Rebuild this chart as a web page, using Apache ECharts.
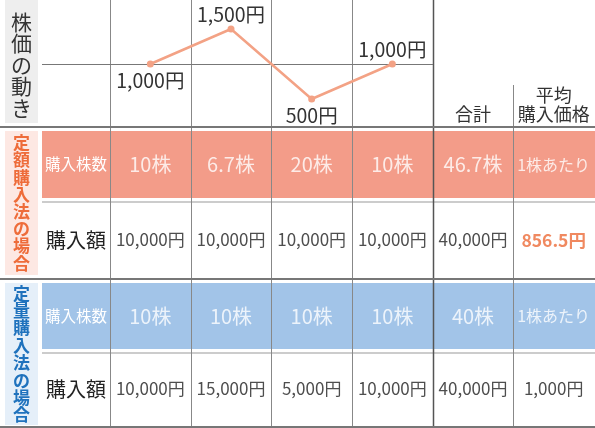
<!DOCTYPE html>
<html><head><meta charset="utf-8">
<script src="https://cdn.jsdelivr.net/npm/echarts@6/dist/echarts.min.js"></script>
<style>html,body{margin:0;padding:0;background:#fff}#c{width:595px;height:428px}</style>
</head><body><div id="c"></div>
<script>
const columns = ['1回目', '2回目', '3回目', '4回目', '合計', '平均\n購入価格'];
const prices = [1000, 1500, 500, 1000];
const priceLabels = ['1,000円', '1,500円', '500円', '1,000円'];
const priceLabelSide = ['bottom', 'top', 'bottom', 'top'];
const rowNames = ['購入株数', '購入額'];
const fixedAmountShares = ['10株', '6.7株', '20株', '10株', '46.7株', '1株あたり'];
const fixedAmountCost = ['10,000円', '10,000円', '10,000円', '10,000円', '40,000円', '856.5円'];
const fixedShareShares = ['10株', '10株', '10株', '10株', '40株', '1株あたり'];
const fixedShareCost = ['10,000円', '15,000円', '5,000円', '10,000円', '40,000円', '1,000円'];
const sectionTitles = ['株価の動き', '定額購入法の場合', '定量購入法の場合'];

const FONT = 'Noto Sans CJK JP';
const W = 595, GL = 110, GR = 1;
const cellW = (W - GL - GR) / columns.length;

const chart = echarts.init(document.getElementById('c'), null, {renderer: 'canvas'});

const rowGrids = [
  {top: 131, height: 67},
  {top: 204, height: 72},
  {top: 283, height: 66},
  {top: 355, height: 68}
];

const grids = [{left: GL, right: GR, top: 1, height: 126}].concat(
  rowGrids.map(g => ({left: GL, right: GR, top: g.top, height: g.height})));

const xAxes = grids.map((g, i) => ({
  gridIndex: i, type: 'category', data: columns, boundaryGap: true,
  show: i === 0,
  axisLine: {show: false}, axisTick: {show: false}, splitLine: {show: false},
  axisLabel: i === 0 ? {
    inside: true, margin: 3, interval: 0, fontFamily: FONT, fontSize: 18, lineHeight: 19,
    color: '#333', verticalAlign: 'bottom',
    formatter: (v, idx) => idx >= 4 ? v : ''
  } : {show: false}
}));

const rowLabels = [rowNames[0], rowNames[1], rowNames[0], rowNames[1]];
const yAxes = [{gridIndex: 0, type: 'value', min: 100, max: 1900, show: false}].concat(
  rowLabels.map((n, i) => ({
    gridIndex: i + 1, type: 'category', data: [n],
    axisLine: {show: false}, axisTick: {show: false}, splitLine: {show: false},
    axisLabel: {
      margin: GL - 76, align: 'center', fontFamily: FONT,
      fontSize: i % 2 === 0 ? 15.5 : 20,
      color: i % 2 === 0 ? '#ffffff' : '#222'
    }
  })));

function cellSeries(gridIdx, values, isBand, special) {
  return {
    type: 'scatter', xAxisIndex: gridIdx, yAxisIndex: gridIdx,
    symbolSize: 1, itemStyle: {color: 'rgba(0,0,0,0)'}, silent: true,
    data: values.map((v, i) => {
      const item = {value: [i, 0], name: v};
      if (isBand && i === 5) item.label = {fontSize: 16};
      if (special && special[i]) item.label = special[i];
      return item;
    }),
    label: {
      show: true, position: 'inside', formatter: p => p.name, fontFamily: FONT,
      fontSize: isBand ? 20 : 17, color: isBand ? '#ffffff' : '#222'
    },
    z: 5
  };
}

const series = [
  {
    type: 'line', xAxisIndex: 0, yAxisIndex: 0, data: prices.map((v, i) => ({
      value: v,
      label: {position: priceLabelSide[i], distance: priceLabelSide[i] === 'top' ? 1 : 3}
    })),
    symbol: 'circle', symbolSize: 7,
    lineStyle: {color: '#f3a285', width: 2.5}, itemStyle: {color: '#f3a285'},
    label: {show: true, formatter: p => priceLabels[p.dataIndex], fontFamily: FONT, fontSize: 19.5, color: '#333'},
    z: 6
  },
  cellSeries(1, fixedAmountShares, true),
  cellSeries(2, fixedAmountCost, false, {5: {color: '#ec6b38', fontWeight: 'bold', fontSize: 17.5}}),
  cellSeries(3, fixedShareShares, true),
  cellSeries(4, fixedShareCost, false)
];

const graphic = [];
// section label boxes
graphic.push({type: 'rect', shape: {x: 5, y: 0, width: 33, height: 123}, style: {fill: '#eeeeee'}, z: 0});
graphic.push({type: 'rect', shape: {x: 5, y: 131, width: 33, height: 144}, style: {fill: '#fde8e3'}, z: 0});
graphic.push({type: 'rect', shape: {x: 5, y: 283, width: 33, height: 142}, style: {fill: '#e5eff9'}, z: 0});
// bands
graphic.push({type: 'rect', shape: {x: 42, y: 131, width: W - 42, height: 67}, style: {fill: '#f39c89'}, z: 0});
graphic.push({type: 'rect', shape: {x: 42, y: 283, width: W - 42, height: 66}, style: {fill: '#a2c4e8'}, z: 0});
// light separator lines
[202, 353].forEach(y => graphic.push({type: 'line', shape: {x1: 42, y1: y, x2: W, y2: y}, style: {stroke: '#cccccc', lineWidth: 2}, z: 1}));
// vertical lines
for (let k = 0; k < columns.length; k++) {
  const x = Math.round(GL + k * cellW) + 0.5;
  const dark = k === 4;
  graphic.push({type: 'line', shape: {x1: x, y1: k === 5 ? 85 : 0, x2: x, y2: 427},
    style: {stroke: dark ? '#555555' : '#888888', lineWidth: dark ? 1.5 : 1}, z: 2});
}
// horizontal thick lines
[127, 279, 427].forEach(y => graphic.push({type: 'line', shape: {x1: 0, y1: y, x2: W, y2: y}, style: {stroke: '#777777', lineWidth: 2.2}, z: 3}));
// section titles (vertical)
const titleSpecs = [
  {text: sectionTitles[0], cy: 65, size: 21, lh: 21.5, color: '#333', weight: 'normal'},
  {text: sectionTitles[1], cy: 203, size: 17, lh: 17.2, color: '#ee6c3a', weight: 'bold'},
  {text: sectionTitles[2], cy: 354, size: 17, lh: 17.4, color: '#1f72bd', weight: 'bold'}
];
titleSpecs.forEach(t => graphic.push({
  type: 'text', x: 21.5, y: t.cy, z: 4,
  style: {text: t.text.split('').join('\n'), fontFamily: FONT, fontSize: t.size, lineHeight: t.lh,
    fill: t.color, fontWeight: t.weight, align: 'center', verticalAlign: 'middle'}
}));

chart.setOption({
  animation: false,
  grid: grids, xAxis: xAxes, yAxis: yAxes, series: series, graphic: graphic
});

// mid reference line at first price level, through the axes' own scale
const yMid = Math.round(chart.convertToPixel({yAxisIndex: 0}, prices[0])) + 0.5;
const xEnd = Math.round(GL + 4 * cellW);
graphic.push({type: 'line', shape: {x1: 42, y1: yMid, x2: xEnd, y2: yMid}, style: {stroke: '#777777', lineWidth: 1.2}, z: 2});
chart.setOption({graphic: graphic});
</script></body></html>
